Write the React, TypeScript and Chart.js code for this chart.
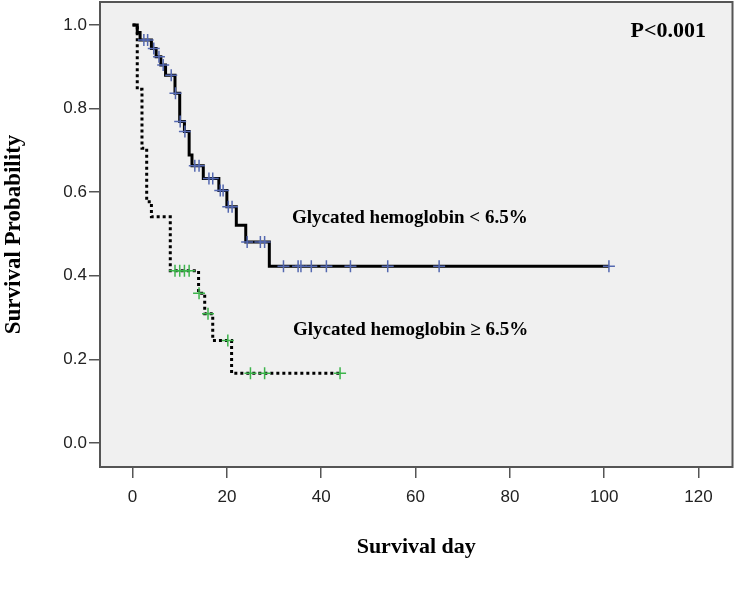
import React, { useEffect, useRef } from 'react';
import { Chart, registerables } from 'chart.js';

Chart.register(...registerables);

// Glycated hemoglobin < 6.5% : step times (days) and survival after each step
const lowTimes = [0, 1, 1.6, 4, 5, 6, 7, 9, 10, 11, 12, 12.6, 15, 18.3, 20, 22, 24, 29, 101];
const lowSurv = [1.0, 0.982, 0.964, 0.944, 0.924, 0.904, 0.88, 0.837, 0.769, 0.745, 0.689, 0.663, 0.633, 0.604, 0.565, 0.521, 0.481, 0.423, 0.423];
const lowCensor = [2.4, 3.2, 4.5, 5.6, 6.5, 8.2, 9.1, 10.1, 11.1, 13.2, 14.1, 16.2, 17, 18.6, 19.2, 20.3, 21.1, 24.3, 27.1, 28, 32, 35.1, 35.7, 37.9, 41.1, 46.2, 54.1, 65, 101];

// Glycated hemoglobin >= 6.5%
const highTimes = [0, 1, 2, 3, 4, 8, 14, 15.3, 17, 21, 44];
const highSurv = [1.0, 0.846, 0.705, 0.577, 0.541, 0.412, 0.358, 0.309, 0.245, 0.167, 0.167];
const highCensor = [9, 10, 11, 12, 14.1, 16, 20.2, 25, 28, 44];

const xTicks = [0, 20, 40, 60, 80, 100, 120];
const yTicks = [0, 0.2, 0.4, 0.6, 0.8, 1.0];

const labelLow = 'Glycated hemoglobin < 6.5%';
const labelHigh = 'Glycated hemoglobin \u2265 6.5%';
const pText = 'P<0.001';

function survAt(times: number[], surv: number[], t: number) {
  let s = surv[0];
  for (let i = 0; i < times.length; i++) {
    if (times[i] <= t) s = surv[i];
  }
  return s;
}

const serif = '"Liberation Serif", "Times New Roman", serif';
const sans = '"Liberation Sans", Arial, sans-serif';

export default function App() {
  const ref = useRef<HTMLCanvasElement | null>(null);

  useEffect(() => {
    if (!ref.current) return;
    const decor = {
      id: 'decor',
      afterLayout(chart: any) {
        const ca = chart.chartArea;
        const y = chart.scales.y;
        ca.top = 2;
        ca.height = ca.bottom - ca.top;
        y.top = 2;
        y.height = y.bottom - y.top;
        y.configure();
      },
      beforeDraw(chart: any) {
        const { ctx, chartArea } = chart;
        ctx.save();
        ctx.fillStyle = '#ffffff';
        ctx.fillRect(0, 0, chart.width, chart.height);
        ctx.fillStyle = '#f0f0f0';
        ctx.fillRect(chartArea.left, chartArea.top, chartArea.right - chartArea.left, chartArea.bottom - chartArea.top);
        ctx.restore();
      },
      afterDraw(chart: any) {
        const { ctx, chartArea } = chart;
        ctx.save();
        ctx.strokeStyle = '#555555';
        ctx.lineWidth = 2;
        ctx.strokeRect(chartArea.left, chartArea.top, chartArea.right - chartArea.left, chartArea.bottom - chartArea.top);
        ctx.fillStyle = '#000000';
        ctx.textBaseline = 'middle';
        ctx.textAlign = 'left';
        ctx.font = `bold 19px ${serif}`;
        ctx.fillText(labelLow, 292, 218);
        ctx.fillText(labelHigh, 293, 330);
        ctx.textAlign = 'right';
        ctx.font = `bold 22px ${serif}`;
        ctx.fillText(pText, 706, 31);
        ctx.restore();
      },
    };

    const zeroPad = (scale: any) => {
      scale.paddingTop = 0;
      scale.paddingBottom = 0;
      scale.paddingLeft = 0;
      scale.paddingRight = 0;
    };

    const chart = new Chart(ref.current, {
      type: 'line',
      data: {
        datasets: [
          {
            label: 'censor low',
            type: 'scatter',
            data: lowCensor.map((t) => ({ x: t, y: survAt(lowTimes, lowSurv, t) })),
            pointStyle: 'cross',
            pointRadius: 6,
            pointBorderWidth: 1.5,
            borderColor: '#5468b0',
            backgroundColor: '#5468b0',
            showLine: false,
            order: 0,
          },
          {
            label: 'censor high',
            type: 'scatter',
            data: highCensor.map((t) => ({ x: t, y: survAt(highTimes, highSurv, t) })),
            pointStyle: 'cross',
            pointRadius: 6,
            pointBorderWidth: 1.5,
            borderColor: '#3cb44b',
            backgroundColor: '#3cb44b',
            showLine: false,
            order: 0,
          },
          {
            label: labelLow,
            data: lowTimes.map((t, i) => ({ x: t, y: lowSurv[i] })),
            stepped: 'before',
            borderColor: '#000000',
            borderWidth: 3,
            pointRadius: 0,
            fill: false,
            order: 1,
          },
          {
            label: labelHigh,
            data: highTimes.map((t, i) => ({ x: t, y: highSurv[i] })),
            stepped: 'before',
            borderColor: '#000000',
            borderWidth: 3,
            borderDash: [3, 3],
            pointRadius: 0,
            fill: false,
            order: 1,
          },
        ],
      },
      options: {
        animation: false,
        responsive: false,
        maintainAspectRatio: false,
        layout: { padding: { top: 2, right: 3, left: 0, bottom: 0 } },
        plugins: {
          legend: { display: false },
          tooltip: { enabled: false },
        },
        scales: {
          x: {
            type: 'linear',
            min: -6.9,
            max: 127.2,
            afterBuildTicks: (scale: any) => {
              scale.ticks = xTicks.map((v) => ({ value: v }));
            },
            afterFit: (scale: any) => {
              scale.height = 123;
              zeroPad(scale);
            },
            border: { display: false },
            grid: {
              drawOnChartArea: false,
              drawTicks: true,
              tickLength: 11,
              color: '#555555',
              lineWidth: 1.5,
            },
            ticks: {
              padding: 9,
              color: '#222222',
              font: { family: sans, size: 17 },
              maxRotation: 0,
              callback: (v: any) => String(v),
            },
            title: {
              display: true,
              text: 'Survival day',
              color: '#000000',
              font: { family: serif, size: 22, weight: 'bold' },
              padding: { top: 0, bottom: 29 },
            },
          },
          y: {
            type: 'linear',
            min: -0.0574,
            max: 1.055,
            afterBuildTicks: (scale: any) => {
              scale.ticks = yTicks.map((v) => ({ value: v }));
            },
            afterFit: (scale: any) => {
              scale.width = 100;
              zeroPad(scale);
            },
            border: { display: false },
            grid: {
              drawOnChartArea: false,
              drawTicks: true,
              tickLength: 11,
              color: '#555555',
              lineWidth: 1.5,
            },
            ticks: {
              padding: 2,
              color: '#222222',
              font: { family: sans, size: 17 },
              callback: (v: any) => Number(v).toFixed(1),
            },
            title: {
              display: true,
              text: 'Survival Probability',
              color: '#000000',
              font: { family: serif, size: 23, weight: 'bold' },
              padding: { top: 0, bottom: 0 },
            },
          },
        },
      },
      plugins: [decor],
    } as any);
    return () => chart.destroy();
  }, []);

  return (
    <div style={{ position: 'absolute', left: 0, top: 0, width: 740, height: 590 }}>
      <canvas ref={ref} width={740} height={590} style={{ width: 740, height: 590 }} />
    </div>
  );
}
